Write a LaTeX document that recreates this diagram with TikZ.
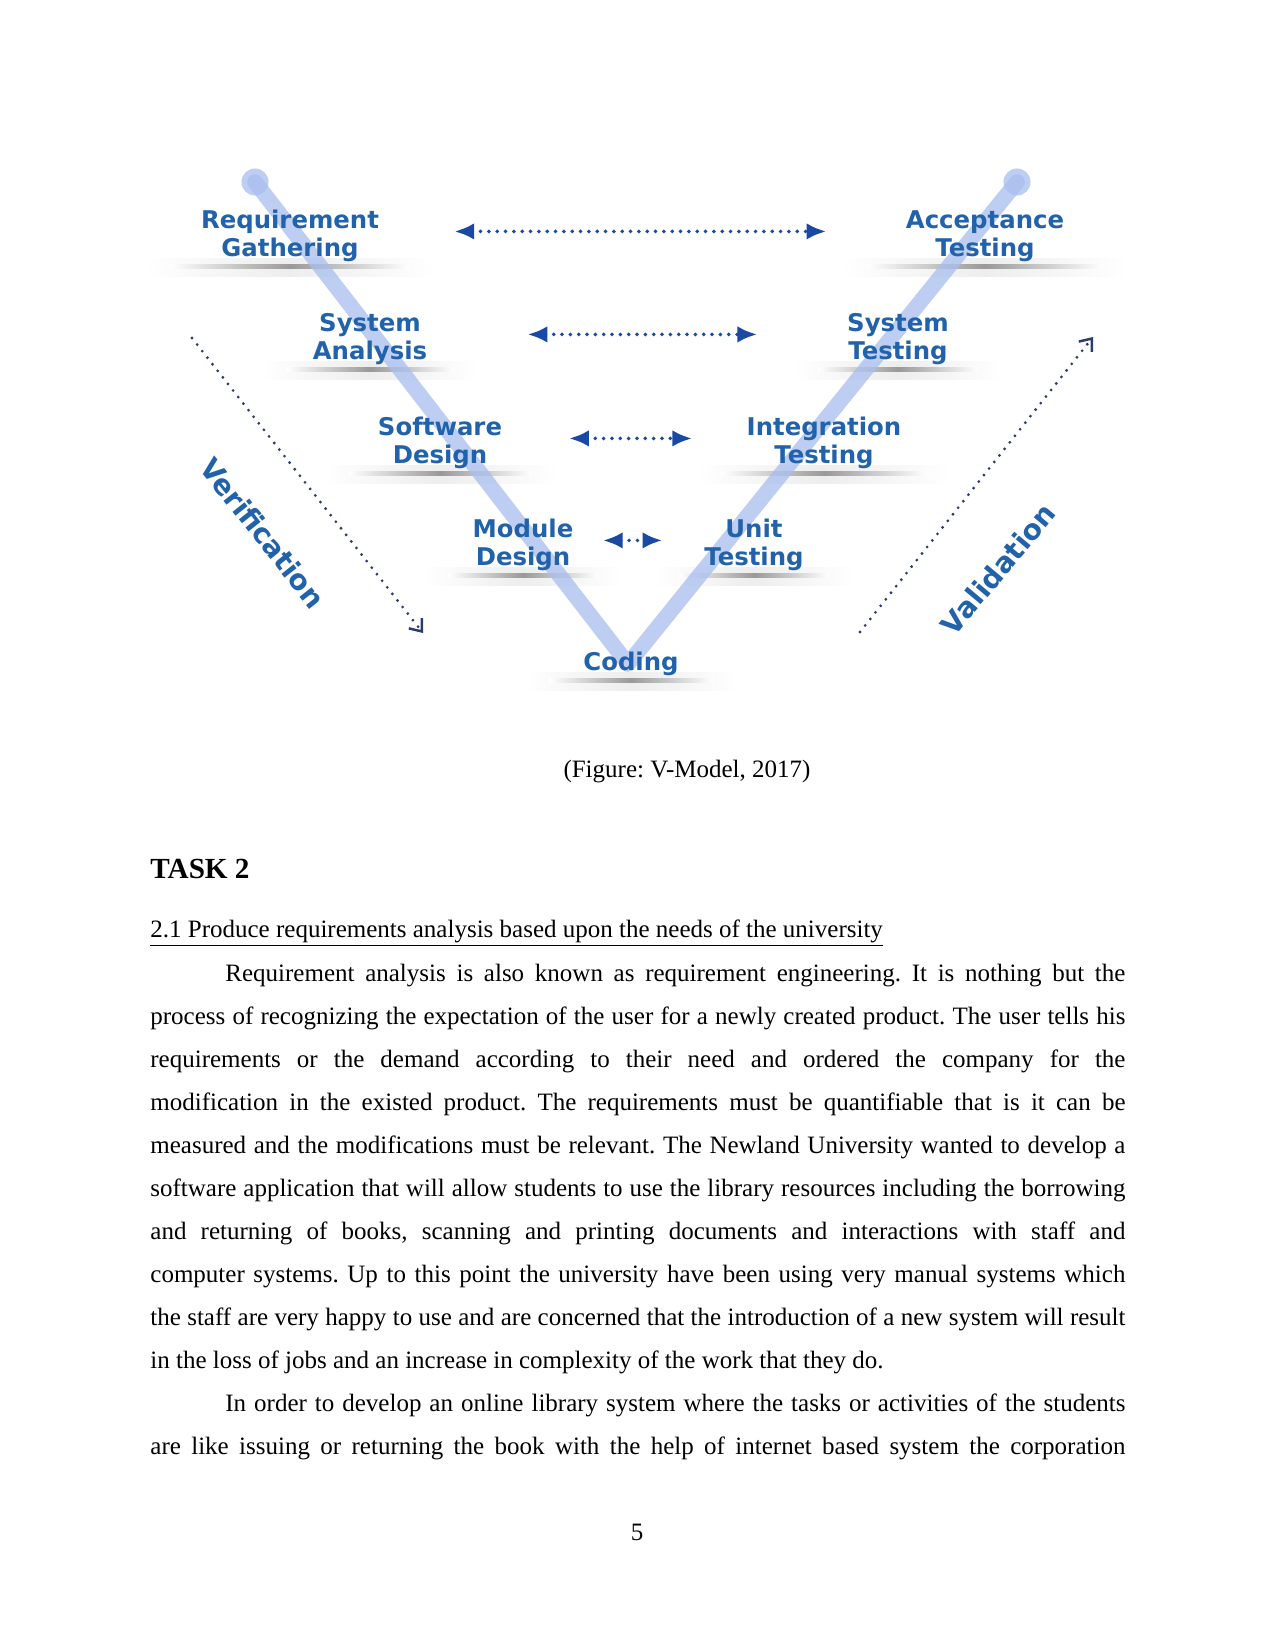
\documentclass[tikz,border=0pt]{standalone}
\usepackage{fontspec}
\setmainfont{Liberation Serif}
\newfontfamily\vmodelfont{DejaVu Sans}
\usetikzlibrary{arrows.meta, calc, backgrounds}
\frenchspacing

\definecolor{stageblue}{RGB}{33,98,170}
\definecolor{arrowblue}{RGB}{25,72,165}
\definecolor{bandblue}{RGB}{168,190,238}
\definecolor{dotnavy}{RGB}{45,60,110}

\begin{document}
\begin{tikzpicture}[x=0.48bp, y=-0.48bp]
\tikzstyle{stage} = [font=\vmodelfont\bfseries\fontsize{11.7bp}{13.6bp}\selectfont, text=stageblue, align=center, inner sep=0pt]
\tikzstyle{sidelabel} = [font=\vmodelfont\bfseries\fontsize{13.5bp}{15bp}\selectfont, text=stageblue, inner sep=0pt]
\tikzstyle{matcharrow} = [arrowblue, line width=1.9bp, dash pattern=on 0pt off 4bp, line cap=round, {Latex[length=9.5bp,width=8bp]}-{Latex[length=9.5bp,width=8bp]}, transform canvas={yshift=2.2bp}]
\tikzstyle{phasearrow} = [dotnavy, line width=1.5bp, dash pattern=on 0pt off 4bp, line cap=round, -{Straight Barb[length=5bp,width=8bp,line width=1.2bp]}]
\tikzstyle{vband} = [bandblue, line width=7.5bp, line join=round, line cap=round, opacity=0.75]
\tikzstyle{shadowbar} = [left color=white, right color=white, middle color=black!40]
\tikzstyle{shadowglow} = [left color=white, right color=white, middle color=black!7]
\tikzstyle{bodyline} = [anchor=base west, inner sep=0pt, font=\fontsize{12bp}{14bp}\selectfont]

\path[use as bounding box] (0,0) rectangle (1275,1650);

% left side of the V
\node[stage] (reqgather) at (290,236) {Requirement\\Gathering};
\node[stage] (sysanalysis) at (370,339) {System\\Analysis};
\node[stage] (swdesign) at (440,443) {Software\\Design};
\node[stage] (moddesign) at (523,545) {Module\\Design};
\node[stage] (coding) at (631,664) {Coding};

% right side of the V
\node[stage] (accept) at (985,236) {Acceptance\\Testing};
\node[stage] (systest) at (898,339) {System\\Testing};
\node[stage] (integtest) at (824,443) {Integration\\Testing};
\node[stage] (unittest) at (754,545) {Unit\\Testing};

\coordinate (vtopleft) at (255,182);
\coordinate (vbottom) at (628,664);
\coordinate (vtopright) at (1017,182);

\begin{scope}[on background layer]
\foreach \n/\w in {reqgather/120, accept/118, sysanalysis/84, systest/80, swdesign/92, integtest/103, moddesign/75, unittest/75, coding/82}{
  \shade[shadowglow] ($(\n.south)+(-\w-25,-4)$) rectangle ($(\n.south)+(\w+25,14)$);
  \shade[shadowbar] ($(\n.south)+(-\w,2)$) rectangle ($(\n.south)+(\w,6)$);
}
\draw[vband] (vtopleft) -- (vbottom) -- (vtopright);
\fill[bandblue, opacity=0.75] (vtopleft) circle[radius=6.5bp];
\fill[bandblue, opacity=0.75] (vtopright) circle[radius=6.5bp];
\end{scope}

% matching levels
\draw[matcharrow, shorten <=36bp, shorten >=38bp] (reqgather) -- (accept);
\draw[matcharrow, shorten <=48bp, shorten >=43bp] (sysanalysis) -- (systest);
\draw[matcharrow, shorten <=32bp, shorten >=26bp] (swdesign) -- (integtest);
\draw[matcharrow, shorten <=14bp, shorten >=20bp] (moddesign) -- (unittest);

% verification and validation
\coordinate (verstart) at (192,338);
\coordinate (verend) at (423,633);
\coordinate (valstart) at (860,632);
\coordinate (valend) at (1093,337);
\draw[phasearrow] (verstart) -- (verend);
\draw[phasearrow] (valstart) -- (valend);
\node[sidelabel, rotate=-51.5] (verif) at (263,533) {Verification};
\node[sidelabel, rotate=50] (valid) at (998,569) {Validation};

% page text
\node[bodyline, anchor=base] (caption) at (687,777) {(Figure: V-Model, 2017)};
\node[bodyline, font=\fontsize{14bp}{16bp}\selectfont\bfseries] (task) at (150,878) {TASK 2};
\node[bodyline] (subhead) at (150,937) {\underline{2.1 Produce requirements analysis based upon the needs of the university}};
\node[bodyline] (line1) at (225,981) {\makebox[432bp][s]{Requirement analysis is also known as requirement engineering. It is nothing but the}};
\node[bodyline] (line2) at (150,1024) {\makebox[468bp][s]{process of recognizing the expectation of the user for a newly created product. The user tells his}};
\node[bodyline] (line3) at (150,1067) {\makebox[468bp][s]{requirements or the demand according to their need and ordered the company for the}};
\node[bodyline] (line4) at (150,1110) {\makebox[468bp][s]{modification in the existed product. The requirements must be quantifiable that is it can be}};
\node[bodyline] (line5) at (150,1153) {\makebox[468bp][s]{measured and the modifications must be relevant. The Newland University wanted to develop a}};
\node[bodyline] (line6) at (150,1196) {\makebox[468bp][s]{software application that will allow students to use the library resources including the borrowing}};
\node[bodyline] (line7) at (150,1239) {\makebox[468bp][s]{and returning of books, scanning and printing documents and interactions with staff and}};
\node[bodyline] (line8) at (150,1282) {\makebox[468bp][s]{computer systems. Up to this point the university have been using very manual systems which}};
\node[bodyline] (line9) at (150,1325) {\makebox[468bp][s]{the staff are very happy to use and are concerned that the introduction of a new system will result}};
\node[bodyline] (line10) at (150,1368) {in the loss of jobs and an increase in complexity of the work that they do.};
\node[bodyline] (line11) at (225,1411) {\makebox[432bp][s]{In order to develop an online library system where the tasks or activities of the students}};
\node[bodyline] (line12) at (150,1454) {\makebox[468bp][s]{are like issuing or returning the book with the help of internet based system the corporation}};
\node[bodyline, anchor=base] (pagenum) at (637,1540) {5};

\end{tikzpicture}
\end{document}
